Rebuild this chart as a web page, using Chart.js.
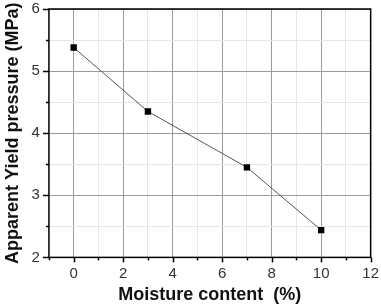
<!DOCTYPE html>
<html>
<head>
<meta charset="utf-8">
<script src="https://cdn.jsdelivr.net/npm/chart.js@4/dist/chart.umd.min.js"></script>
<style>
  html, body { margin: 0; padding: 0; background: #fff; }
  #wrap { width: 381px; height: 306px; }
</style>
</head>
<body>
<div id="wrap"><canvas id="myChart"></canvas></div>
<script>
var moisture = [0, 3, 7, 10];
var yieldPressure = [5.38, 4.35, 3.45, 2.44];
var xTickLabels = [0, 2, 4, 6, 8, 10, 12];
var yTickLabels = [2, 3, 4, 5, 6];

var points = moisture.map(function (m, i) { return { x: m, y: yieldPressure[i] }; });

// little outward tick marks, long on labelled values, short on the others
var tickMarks = {
    id: "tickMarks",
    afterDraw: function (chart) {
        var ctx = chart.ctx;
        var xs = chart.scales.x, ys = chart.scales.y;
        var area = chart.chartArea;
        ctx.save();
        ctx.strokeStyle = "#000";
        ctx.lineWidth = 1.5;
        for (var v = -1; v <= 12; v++) {
            var px = Math.round(xs.getPixelForValue(v)) + 0.5;
            var len = xTickLabels.indexOf(v) >= 0 ? 5 : 3;
            ctx.beginPath();
            ctx.moveTo(px, area.bottom);
            ctx.lineTo(px, area.bottom + len);
            ctx.stroke();
        }
        for (var w = 2; w <= 6; w += 0.5) {
            var py = Math.round(ys.getPixelForValue(w)) + 0.5;
            var len2 = yTickLabels.indexOf(w) >= 0 ? 6 : 3;
            ctx.beginPath();
            ctx.moveTo(area.left, py);
            ctx.lineTo(area.left - len2, py);
            ctx.stroke();
        }
        ctx.strokeRect(area.left, area.top, area.right - area.left, area.bottom - area.top);
        ctx.restore();
    }
};

new Chart("myChart", {
    type: "scatter",
    data: {
        datasets: [{
            data: points,
            showLine: true,
            borderColor: "#555",
            borderWidth: 1,
            backgroundColor: "#000",
            pointStyle: "rect",
            pointRadius: 4.5,
            pointBorderWidth: 0
        }]
    },
    options: {
        responsive: true,
        maintainAspectRatio: false,
        animation: false,
        layout: { padding: { top: 0, right: 0, left: 2, bottom: 0 } },
        plugins: { legend: { display: false }, tooltip: { enabled: false } },
        scales: {
            x: {
                type: "linear",
                min: -1,
                max: 12,
                ticks: {
                    stepSize: 1,
                    autoSkip: false,
                    maxRotation: 0,
                    color: "#333",
                    font: { family: "Liberation Sans", size: 15 },
                    padding: 2,
                    callback: function (v) { return xTickLabels.indexOf(v) >= 0 ? String(v) : ""; }
                },
                grid: {
                    drawTicks: true,
                    tickLength: 5,
                    tickColor: "rgba(0,0,0,0)",
                    color: function (c) {
                        var v = c.tick ? c.tick.value : 0;
                        return (v % 2 === 0) ? "#9a9a9a" : "#e6e6e6";
                    }
                },
                border: { display: false },
                title: {
                    display: true,
                    text: "Moisture content  (%)",
                    color: "#111",
                    font: { family: "Liberation Sans", size: 18, weight: "bold" },
                    padding: { top: 0, bottom: 0 }
                }
            },
            y: {
                min: 2,
                max: 6,
                ticks: {
                    stepSize: 0.5,
                    autoSkip: false,
                    color: "#333",
                    font: { family: "Liberation Sans", size: 15, lineHeight: 0.8 },
                    padding: 3,
                    callback: function (v) { return yTickLabels.indexOf(v) >= 0 ? String(v) : ""; }
                },
                grid: {
                    drawTicks: true,
                    tickLength: 6,
                    tickColor: "rgba(0,0,0,0)",
                    color: function (c) {
                        var v = c.tick ? c.tick.value : 0;
                        return (v % 1 === 0) ? "#9a9a9a" : "#e6e6e6";
                    }
                },
                border: { display: false },
                title: {
                    display: true,
                    text: "Apparent Yield pressure (MPa)",
                    color: "#111",
                    font: { family: "Liberation Sans", size: 18, weight: "bold" },
                    padding: { top: 0, bottom: 5 }
                }
            }
        }
    },
    plugins: [tickMarks]
});
</script>
</body>
</html>
